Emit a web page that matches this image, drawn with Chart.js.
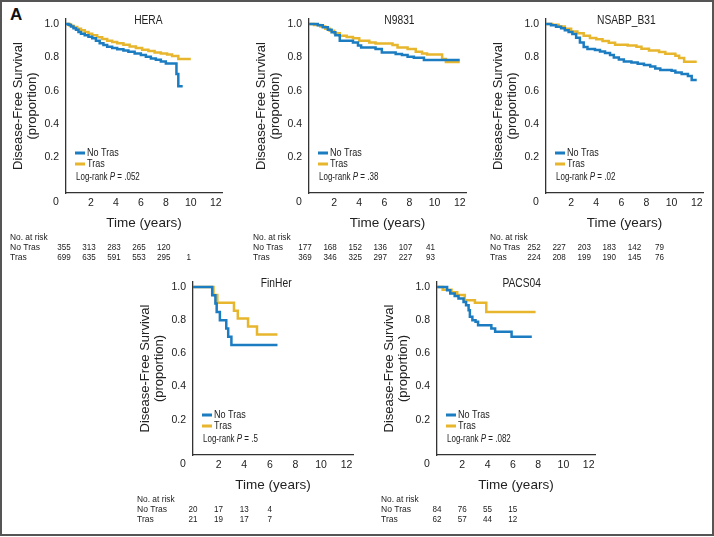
<!DOCTYPE html>
<html lang="en">
<head>
<meta charset="UTF-8">
<title>Disease-free survival by trial</title>
<script src="https://cdn.jsdelivr.net/npm/chart.js"></script>
<style>
  body { margin: 0; background: #fff; overflow: hidden; }
  #frame { position: absolute; left: 0; top: 0; width: 714px; height: 536px; box-sizing: border-box; border: 2px solid #555; }
  #tag { position: absolute; left: 10px; top: 5px; font: bold 17px 'Liberation Sans', Arial, sans-serif; color: #111; }
  canvas { position: absolute; }
</style>
</head>
<body>
<div id="frame"></div>
<div id="tag">A</div>
<script>
// ---- data (years, proportion event-free) ----
const xTicks = [0, 2, 4, 6, 8, 10, 12];
const yTicks = [0.2, 0.4, 0.6, 0.8, 1.0];
const riskTimes = [0, 2, 4, 6, 8, 10];

const heraNoTrasT = [0, 0.2, 0.4, 0.6, 0.8, 1.0, 1.2, 1.5, 1.8, 2.1, 2.4, 2.7, 3.0, 3.3, 3.7, 4.1, 4.6, 5.0, 5.5, 6.0, 6.4, 6.8, 7.2, 7.6, 8.0, 8.85, 9.0, 9.35];
const heraNoTrasS = [1, 0.995, 0.985, 0.975, 0.965, 0.952, 0.942, 0.932, 0.924, 0.915, 0.9, 0.885, 0.875, 0.864, 0.856, 0.849, 0.842, 0.834, 0.824, 0.814, 0.804, 0.794, 0.786, 0.776, 0.764, 0.70, 0.628, 0.628];
const heraTrasT = [0, 0.3, 0.6, 0.9, 1.2, 1.5, 1.8, 2.1, 2.5, 2.9, 3.3, 3.7, 4.1, 4.6, 5.1, 5.6, 6.1, 6.6, 7.1, 7.6, 8.1, 8.5, 9.0, 10.0];
const heraTrasS = [1, 0.99, 0.982, 0.972, 0.962, 0.952, 0.942, 0.932, 0.921, 0.91, 0.9, 0.892, 0.885, 0.876, 0.866, 0.856, 0.846, 0.838, 0.83, 0.824, 0.818, 0.808, 0.79, 0.79];
const heraRiskNoTras = [355, 313, 283, 265, 120];
const heraRiskTras = [699, 635, 591, 553, 295, 1];

const n9831NoTrasT = [0, 0.7, 1.1, 1.5, 1.8, 2.1, 2.45, 3.5, 3.9, 4.15, 5.3, 5.8, 6.9, 7.4, 7.85, 8.35, 9.15, 12.0];
const n9831NoTrasS = [1, 0.992, 0.98, 0.965, 0.95, 0.932, 0.90, 0.89, 0.872, 0.86, 0.85, 0.83, 0.82, 0.814, 0.804, 0.798, 0.784, 0.784];
const n9831TrasT = [0, 0.4, 0.9, 1.3, 1.65, 2.0, 2.45, 3.0, 3.5, 4.0, 4.8, 5.3, 6.65, 7.05, 7.85, 8.5, 9.0, 9.4, 10.6, 10.9, 12.0];
const n9831TrasS = [1, 0.994, 0.985, 0.972, 0.96, 0.944, 0.93, 0.922, 0.914, 0.9, 0.89, 0.884, 0.874, 0.86, 0.85, 0.834, 0.824, 0.818, 0.79, 0.772, 0.772];
const n9831RiskNoTras = [177, 168, 152, 136, 107, 41];
const n9831RiskTras = [369, 346, 325, 297, 227, 93];

const b31NoTrasT = [0, 0.4, 0.8, 1.2, 1.5, 1.8, 2.1, 2.4, 2.7, 3.0, 3.3, 3.9, 4.3, 4.7, 5.1, 5.4, 5.8, 6.2, 6.8, 7.3, 7.8, 8.3, 8.7, 9.1, 10.0, 10.3, 10.8, 11.3, 11.6, 12.0];
const b31NoTrasS = [1, 0.992, 0.984, 0.975, 0.962, 0.952, 0.94, 0.918, 0.89, 0.862, 0.85, 0.844, 0.836, 0.826, 0.814, 0.80, 0.788, 0.776, 0.77, 0.762, 0.754, 0.745, 0.734, 0.724, 0.72, 0.71, 0.70, 0.688, 0.664, 0.664];
const b31TrasT = [0, 0.5, 1.0, 1.5, 2.0, 2.5, 3.0, 3.5, 4.0, 4.5, 5.0, 5.5, 6.5, 7.2, 7.6, 8.2, 9.0, 9.5, 10.3, 10.6, 11.0, 12.0];
const b31TrasS = [1, 0.995, 0.985, 0.972, 0.955, 0.944, 0.93, 0.916, 0.908, 0.898, 0.888, 0.876, 0.872, 0.864, 0.852, 0.842, 0.832, 0.822, 0.81, 0.796, 0.774, 0.774];
const b31RiskNoTras = [252, 227, 203, 183, 142, 79];
const b31RiskTras = [224, 208, 199, 190, 145, 76];

const finherNoTrasT = [0, 1.5, 1.75, 1.85, 2.1, 2.6, 2.75, 3.0, 6.6];
const finherNoTrasS = [1, 0.95, 0.90, 0.85, 0.80, 0.75, 0.70, 0.65, 0.65];
const finherTrasT = [0, 1.6, 1.9, 3.2, 3.5, 4.3, 5.0, 6.6];
const finherTrasS = [1, 0.952, 0.905, 0.857, 0.81, 0.762, 0.714, 0.714];
const finherRiskNoTras = [20, 17, 13, 4];
const finherRiskTras = [21, 19, 17, 7];

const pacsNoTrasT = [0, 0.8, 1.05, 1.4, 1.7, 2.1, 2.3, 2.5, 2.6, 2.8, 3.05, 3.25, 4.3, 4.6, 5.9, 7.5];
const pacsNoTrasS = [1, 0.98, 0.96, 0.945, 0.93, 0.91, 0.89, 0.86, 0.82, 0.80, 0.79, 0.77, 0.75, 0.73, 0.70, 0.70];
const pacsTrasT = [0, 0.45, 1.15, 1.6, 2.2, 3.0, 3.9, 7.8];
const pacsTrasS = [1, 0.984, 0.968, 0.952, 0.92, 0.905, 0.85, 0.85];
const pacsRiskNoTras = [84, 76, 55, 15];
const pacsRiskTras = [62, 57, 44, 12];

// ---- styling ----
const FONT = "'Liberation Sans', Arial, sans-serif";
const TEXT = '#222';
const BLUE = '#1b7cc1';
const GOLD = '#e7b62c';

const panels = [
  { name: 'HERA', p: '.052', noTras: [heraNoTrasT, heraNoTrasS], tras: [heraTrasT, heraTrasS],
    risk: [heraRiskNoTras, heraRiskTras], area: { left: 66, top: 19, right: 222, bottom: 193 }, titleAt: 6.6, riskShift: -2 },
  { name: 'N9831', p: '.38', noTras: [n9831NoTrasT, n9831NoTrasS], tras: [n9831TrasT, n9831TrasS],
    risk: [n9831RiskNoTras, n9831RiskTras], area: { left: 309, top: 19, right: 466, bottom: 193 }, titleAt: 7.2, riskShift: -4 },
  { name: 'NSABP_B31', p: '.02', noTras: [b31NoTrasT, b31NoTrasS], tras: [b31TrasT, b31TrasS],
    risk: [b31RiskNoTras, b31RiskTras], area: { left: 546, top: 19, right: 703, bottom: 193 }, titleAt: 6.4, riskShift: -12 },
  { name: 'FinHer', p: '.5', noTras: [finherNoTrasT, finherNoTrasS], tras: [finherTrasT, finherTrasS],
    risk: [finherRiskNoTras, finherRiskTras], area: { left: 193, top: 282, right: 353, bottom: 455 }, titleAt: 6.5, riskShift: 0 },
  { name: 'PACS04', p: '.082', noTras: [pacsNoTrasT, pacsNoTrasS], tras: [pacsTrasT, pacsTrasS],
    risk: [pacsRiskNoTras, pacsRiskTras], area: { left: 437, top: 282, right: 595, bottom: 455 }, titleAt: 6.7, riskShift: 0 }
];

// the original uses a condensed face; squeeze our own labels horizontally
function narrowText(ctx, str, x, y, align, sx) {
  ctx.save();
  ctx.translate(x, y);
  ctx.scale(sx, 1);
  ctx.textAlign = align;
  ctx.fillText(str, 0, 0);
  ctx.restore();
  return ctx.measureText(str).width * sx;
}

// trial name, inside legend, origin "0" and the number-at-risk table
const panelDecor = {
  id: 'panelDecor',
  afterDraw(chart, args, opts) {
    const p = opts.panel;
    const ctx = chart.ctx;
    const a = chart.chartArea;
    const xs = chart.scales.x;
    ctx.save();
    ctx.fillStyle = TEXT;
    ctx.textBaseline = 'middle';

    ctx.font = `12.5px ${FONT}`;
    narrowText(ctx, p.name, xs.getPixelForValue(p.titleAt), a.top + 2, 'center', 0.82);

    ctx.font = `10.5px ${FONT}`;
    narrowText(ctx, '0', a.left - 10, a.bottom + 9, 'center', 1);

    // legend
    ctx.font = `10.5px ${FONT}`;
    [['No Tras', BLUE, 40], ['Tras', GOLD, 29]].forEach(([label, color, dy]) => {
      const y = a.bottom - dy;
      ctx.strokeStyle = color;
      ctx.lineWidth = 3;
      ctx.beginPath();
      ctx.moveTo(a.left + 9, y);
      ctx.lineTo(a.left + 19, y);
      ctx.stroke();
      narrowText(ctx, label, a.left + 21, y, 'left', 0.86);
    });
    ctx.font = `10px ${FONT}`;
    let x = a.left + 10;
    const y = a.bottom - 16;
    x += narrowText(ctx, 'Log-rank ', x, y, 'left', 0.8);
    ctx.font = `italic 10px ${FONT}`;
    x += narrowText(ctx, 'P', x, y, 'left', 0.8);
    ctx.font = `10px ${FONT}`;
    narrowText(ctx, ' = ' + p.p, x, y, 'left', 0.8);

    // number at risk
    ctx.font = `9.5px ${FONT}`;
    const lx = a.left - 56;
    narrowText(ctx, 'No. at risk', lx, a.bottom + 44, 'left', 0.88);
    narrowText(ctx, 'No Tras', lx, a.bottom + 54, 'left', 0.9);
    narrowText(ctx, 'Tras', lx, a.bottom + 64, 'left', 0.9);
    p.risk.forEach((row, r) => {
      row.forEach((n, i) => {
        narrowText(ctx, String(n), xs.getPixelForValue(riskTimes[i]) + p.riskShift, a.bottom + 54 + r * 10, 'center', 0.85);
      });
    });
    ctx.restore();
  }
};

const Y_AXIS_W = 66, X_AXIS_H = 38, PAD_TOP = 19, PAD_RIGHT = 10, PAD_BOTTOM = 34;

function toPoints(pair) {
  return pair[0].map((t, i) => ({ x: t, y: pair[1][i] }));
}

panels.forEach(p => {
  const c = document.createElement('canvas');
  const left = p.area.left - Y_AXIS_W;
  const top = p.area.top - PAD_TOP;
  const w = p.area.right + PAD_RIGHT - left;
  const h = p.area.bottom + X_AXIS_H + PAD_BOTTOM - top;
  c.width = w;
  c.height = h;
  c.style.left = left + 'px';
  c.style.top = top + 'px';
  document.body.appendChild(c);

  new Chart(c.getContext('2d'), {
    type: 'line',
    data: {
      datasets: [
        { label: 'No Tras', data: toPoints(p.noTras), borderColor: BLUE },
        { label: 'Tras', data: toPoints(p.tras), borderColor: GOLD }
      ]
    },
    options: {
      responsive: false,
      animation: false,
      events: [],
      layout: { padding: { left: 0, top: PAD_TOP, right: PAD_RIGHT, bottom: PAD_BOTTOM } },
      elements: {
        line: { borderWidth: 2.5, stepped: 'before', fill: false },
        point: { radius: 0 }
      },
      plugins: {
        legend: { display: false },
        tooltip: { enabled: false },
        panelDecor: { panel: p }
      },
      scales: {
        x: {
          type: 'linear', min: 0, max: 12.5,
          afterBuildTicks: s => { s.ticks = xTicks.map(v => ({ value: v })); },
          afterFit: s => { s.height = X_AXIS_H; },
          grid: { display: false, drawTicks: false },
          border: { display: true, color: '#333', width: 1.3 },
          ticks: { padding: 4, color: TEXT, font: { family: FONT, size: 10.5 }, maxRotation: 0,
                   callback: v => (v === 0 ? '' : v) },
          title: { display: true, text: 'Time (years)', color: TEXT, padding: 0,
                   font: { family: FONT, size: 13.5 } }
        },
        y: {
          min: -0.012, max: 1.03,
          afterBuildTicks: s => { s.ticks = yTicks.map(v => ({ value: v })); },
          afterFit: s => { s.width = Y_AXIS_W; },
          grid: { display: false, drawTicks: false },
          border: { display: true, color: '#333', width: 1.3 },
          ticks: { padding: 7, color: TEXT, font: { family: FONT, size: 10.5 },
                   callback: v => v.toFixed(1) },
          title: { display: true, text: ['Disease-Free Survival', '(proportion)'], color: TEXT,
                   padding: { top: 11 }, font: { family: FONT, size: 13, lineHeight: '14px' } }
        }
      }
    },
    plugins: [panelDecor]
  });
});
</script>
</body>
</html>
